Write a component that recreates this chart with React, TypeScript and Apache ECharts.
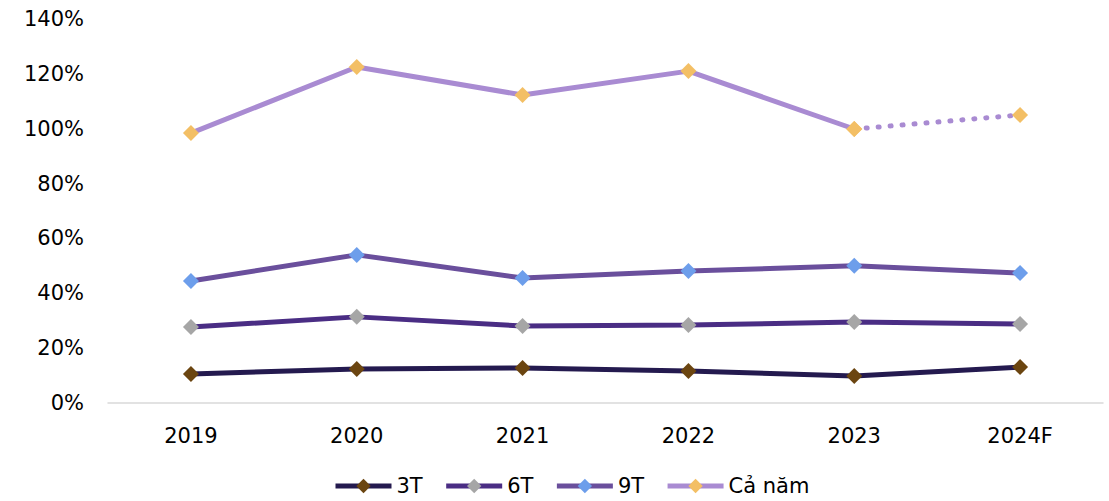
import React, { useEffect, useRef } from "react";
import * as echarts from "echarts";

const categories = ["2019", "2020", "2021", "2022", "2023", "2024F"];
const yTicks = [0, 20, 40, 60, 80, 100, 120, 140];
const s3T = [10.6, 12.4, 12.8, 11.7, 9.8, 13.1];
const s6T = [27.7, 31.4, 28.1, 28.4, 29.5, 28.8];
const s9T = [44.5, 54.0, 45.6, 48.1, 50.0, 47.4];
const sFull = [98.4, 122.5, 112.3, 121.0, 99.9, 105.0];
const seriesNames = ["3T", "6T", "9T", "Cả năm"];

export default function App() {
  const ref = useRef<HTMLDivElement>(null);
  useEffect(() => {
    document.body.style.margin = "0";
    if (!ref.current) return;
    const chart = echarts.init(ref.current, null, { renderer: "svg" });
    const font = "'DejaVu Sans', sans-serif";
    const mk = (name: string, data: (number | null)[], line: string, marker: string, extra: any = {}) => ({
      name,
      type: "line",
      data,
      symbol: "diamond",
      symbolSize: 16,
      showSymbol: true,
      lineStyle: { color: line, width: 5 },
      itemStyle: { color: marker },
      ...extra,
    });
    const solidFull = sFull.map((v, i) => (i < sFull.length - 1 ? v : null));
    const dotFull = sFull.map((v, i) => (i >= sFull.length - 2 ? v : null));
    chart.setOption({
      animation: false,
      grid: { left: 108, right: 6, top: 19, bottom: 98 },
      legend: {
        data: seriesNames,
        top: 474,
        left: 333,
        padding: 0,
        itemWidth: 56,
        itemHeight: 18,
        itemGap: 21,
        lineStyle: { width: 5 },
        textStyle: { fontFamily: font, fontSize: 21, color: "#000", lineHeight: 24 },
      },
      xAxis: {
        type: "category",
        data: categories,
        boundaryGap: true,
        axisLine: { lineStyle: { color: "#d9d9d9", width: 1.5 } },
        axisTick: { show: false },
        axisLabel: { fontFamily: font, fontSize: 21, color: "#000", margin: 22 },
      },
      yAxis: {
        type: "value",
        min: yTicks[0],
        max: yTicks[yTicks.length - 1],
        interval: 20,
        axisLine: { show: false },
        axisTick: { show: false },
        splitLine: { show: false },
        axisLabel: { fontFamily: font, fontSize: 21, color: "#000", margin: 24, formatter: "{value}%" },
      },
      series: [
        mk("3T", s3T, "#241a4f", "#6b4510", { z: 5 }),
        mk("6T", s6T, "#4a2d84", "#a6a6a6", { z: 5 }),
        mk("9T", s9T, "#6a4f9c", "#6d9eeb", { z: 5 }),
        mk("Cả năm", solidFull, "#a98bd2", "#f3bf65", { z: 5 }),
        mk("Cả năm (dự báo)", dotFull, "#a98bd2", "#f3bf65", {
          z: 4,
          lineStyle: { color: "#a98bd2", width: 5, type: [1, 11], cap: "round" },
        }),
      ],
    });
    return () => chart.dispose();
  }, []);
  return <div ref={ref} style={{ width: 1109, height: 501 }} />;
}
